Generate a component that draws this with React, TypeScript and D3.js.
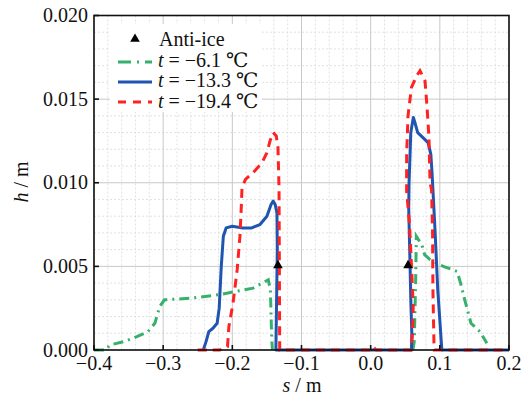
import React from "react";
import * as d3 from "d3";

type P = [number, number];

// ---- data (s in m, h in m) ----
const greenLeft: P[] = [
  [-0.4, 0], [-0.383, 0], [-0.377, 0.0003], [-0.357, 0.0005], [-0.338, 0.0008],
  [-0.322, 0.0011], [-0.312, 0.0016], [-0.305, 0.0026], [-0.298, 0.003],
  [-0.26, 0.0031], [-0.22, 0.0033], [-0.17, 0.0037], [-0.148, 0.0042],
  [-0.145, 0.0036], [-0.143, 0.0006], [-0.142, 0],
];
const greenRight: P[] = [
  [0.061, 0], [0.063, 0.0005], [0.065, 0.004], [0.066, 0.0068], [0.069, 0.0066],
  [0.074, 0.0063], [0.078, 0.0057], [0.086, 0.0054], [0.105, 0.005], [0.125, 0.0047],
  [0.13, 0.004], [0.136, 0.003], [0.145, 0.0016], [0.158, 0.0011], [0.168, 0.0004],
];
const blueSeries: P[] = [
  [-0.242, 0], [-0.238, 0.0005], [-0.234, 0.0011], [-0.228, 0.0013], [-0.222, 0.0016],
  [-0.219, 0.0025], [-0.216, 0.005], [-0.213, 0.0068], [-0.209, 0.0073], [-0.2, 0.0074],
  [-0.185, 0.0073], [-0.172, 0.0073], [-0.16, 0.0075], [-0.15, 0.008], [-0.144, 0.0087],
  [-0.141, 0.0089], [-0.138, 0.0087], [-0.1355, 0.0082], [-0.135, 0.006], [-0.136, 0.003],
  [-0.137, 0], [0.059, 0], [0.0595, 0.001], [0.058, 0.003], [0.057, 0.005],
  [0.055, 0.0085], [0.0555, 0.01], [0.058, 0.013], [0.0617, 0.0139], [0.064, 0.0136],
  [0.068, 0.013], [0.0756, 0.0127], [0.083, 0.0124], [0.087, 0.0117], [0.0887, 0.0106],
  [0.09, 0.0096], [0.093, 0.0072], [0.097, 0.0036], [0.1026, 0.0002], [0.103, 0],
  [0.2, 0],
];
const redSeries: P[] = [
  [-0.25, 0], [-0.218, 0], [-0.207, 0.0002], [-0.205, 0.0014], [-0.199, 0.0028],
  [-0.193, 0.0048], [-0.189, 0.0068], [-0.187, 0.0086], [-0.186, 0.0097], [-0.181, 0.0102],
  [-0.17, 0.0106], [-0.157, 0.0112], [-0.15, 0.0118], [-0.1455, 0.0125], [-0.141, 0.013],
  [-0.1365, 0.0128], [-0.134, 0.0121], [-0.1325, 0.0097], [-0.132, 0.005], [-0.1315, 0],
  [-0.002, 0], [0.003, 0.0002], [0.008, 0], [0.0585, 0], [0.0605, 0.001], [0.0615, 0.0026],
  [0.0595, 0.0046], [0.056, 0.0076], [0.052, 0.0095], [0.052, 0.0117], [0.054, 0.014],
  [0.059, 0.0157], [0.0666, 0.0164], [0.0713, 0.0167], [0.0785, 0.0161], [0.0814, 0.0146],
  [0.0843, 0.0127], [0.0858, 0.01], [0.088, 0.0096], [0.0895, 0.007], [0.09, 0.0036],
  [0.0915, 0.0004], [0.092, 0], [0.2, 0],
];
const antiIce: P[] = [[-0.134, 0.005], [0.054, 0.005]];

const xTicks = [-0.4, -0.3, -0.2, -0.1, 0.0, 0.1, 0.2];
const xTickLabels = ["\u22120.4", "\u22120.3", "\u22120.2", "\u22120.1", "0.0", "0.1", "0.2"];
const yTicks = [0, 0.005, 0.01, 0.015, 0.02];
const yTickLabels = ["0.000", "0.005", "0.010", "0.015", "0.020"];
const legendLabels = ["Anti-ice", "\u22126.1 \u2103", "\u221213.3 \u2103", "\u221219.4 \u2103"];

const GREEN = "#36b06a";
const BLUE = "#1f55b0";
const RED = "#ff2222";
const FS = { fontFamily: "'Liberation Serif', 'DejaVu Serif', serif" };

export default function App() {
  const W = 525, H = 395;
  const L = 94, R = 509, T = 15.5, B = 350;
  const x = d3.scaleLinear().domain([-0.4, 0.2]).range([L, R]);
  const y = d3.scaleLinear().domain([0, 0.02]).range([B, T]);
  const line = d3.line<P>().x((d) => x(d[0])).y((d) => y(d[1]));

  const minorX = d3.range(-0.4, 0.2001, 0.02).filter((v) => Math.abs(Math.round(v * 10) - v * 10) > 1e-6);
  const minorY = d3.range(0, 0.02001, 0.001).filter((v) => Math.abs(Math.round(v * 200) - v * 200) > 1e-6);

  const tri = d3.symbol().type(d3.symbolTriangle).size(40)();

  return (
    <svg width={W} height={H} style={{ position: "absolute", left: 0, top: 0, background: "#fff" }}>
      <rect x={0} y={0} width={W} height={H} fill="#fff" />
      {/* minor grid */}
      {minorX.map((v, i) => (
        <line key={"mx" + i} x1={x(v)} x2={x(v)} y1={T} y2={B} stroke="#d9d9d9" strokeWidth={0.8} strokeDasharray="2,2" />
      ))}
      {minorY.map((v, i) => (
        <line key={"my" + i} x1={L} x2={R} y1={y(v)} y2={y(v)} stroke="#d9d9d9" strokeWidth={0.8} strokeDasharray="2,2" />
      ))}
      {/* major grid */}
      {xTicks.map((v, i) => (
        <line key={"gx" + i} x1={x(v)} x2={x(v)} y1={T} y2={B} stroke="#c8c8c8" strokeWidth={1} />
      ))}
      {yTicks.map((v, i) => (
        <line key={"gy" + i} x1={L} x2={R} y1={y(v)} y2={y(v)} stroke="#c8c8c8" strokeWidth={1} />
      ))}
      {/* legend background */}
      <rect x={110} y={24} width={152} height={88} fill="#fff" />

      {/* data */}
      <path d={line(greenLeft) || ""} fill="none" stroke={GREEN} strokeWidth={3} strokeDasharray="10,5,2,5" />
      <path d={line(greenRight) || ""} fill="none" stroke={GREEN} strokeWidth={3} strokeDasharray="10,5,2,5" />
      <path d={line(blueSeries) || ""} fill="none" stroke={BLUE} strokeWidth={3} strokeLinejoin="round" />
      <path d={line(redSeries) || ""} fill="none" stroke={RED} strokeWidth={3} strokeDasharray="9,6" />
      {antiIce.map((d, i) => (
        <path key={"ai" + i} d={tri || ""} transform={`translate(${x(d[0])},${y(d[1]) - 1})`} fill="#000" />
      ))}

      {/* frame */}
      <rect x={L} y={T} width={R - L} height={B - T} fill="none" stroke="#111" strokeWidth={1.6} />
      {/* ticks */}
      {xTicks.map((v, i) => (
        <g key={"xt" + i}>
          <line x1={x(v)} x2={x(v)} y1={B} y2={B - 5} stroke="#111" strokeWidth={1.6} />
          <text x={x(v)} y={369.5} fontSize={20} textAnchor="middle" fill="#111" style={FS}>{xTickLabels[i]}</text>
        </g>
      ))}
      {yTicks.map((v, i) => (
        <g key={"yt" + i}>
          <line x1={L} x2={L + 5} y1={y(v)} y2={y(v)} stroke="#111" strokeWidth={1.6} />
          <text x={88} y={y(v) + 6.5} fontSize={20} textAnchor="end" fill="#111" style={FS}>{yTickLabels[i]}</text>
        </g>
      ))}
      {/* axis titles */}
      <text x={302} y={392} fontSize={20} textAnchor="middle" fill="#111" style={FS}>
        <tspan fontStyle="italic">s</tspan> / m
      </text>
      <text transform="translate(28,182) rotate(-90)" fontSize={20} textAnchor="middle" fill="#111" style={FS}>
        <tspan fontStyle="italic">h</tspan> / m
      </text>

      {/* legend */}
      <path d={tri || ""} transform="translate(135,39)" fill="#000" />
      <text x={159} y={46} fontSize={20} fill="#111" style={FS}>{legendLabels[0]}</text>
      {[GREEN, BLUE, RED].map((c, i) => (
        <g key={"lg" + i}>
          <line x1={118} x2={152} y1={62 + i * 20} y2={62 + i * 20} stroke={c} strokeWidth={3}
            strokeDasharray={i === 0 ? "13,6,2,6" : i === 2 ? "8,7" : undefined} />
          <text x={158} y={67 + i * 20.3} fontSize={20} fill="#111" style={FS}>
            <tspan fontStyle="italic">t</tspan> = {legendLabels[i + 1]}
          </text>
        </g>
      ))}
    </svg>
  );
}
